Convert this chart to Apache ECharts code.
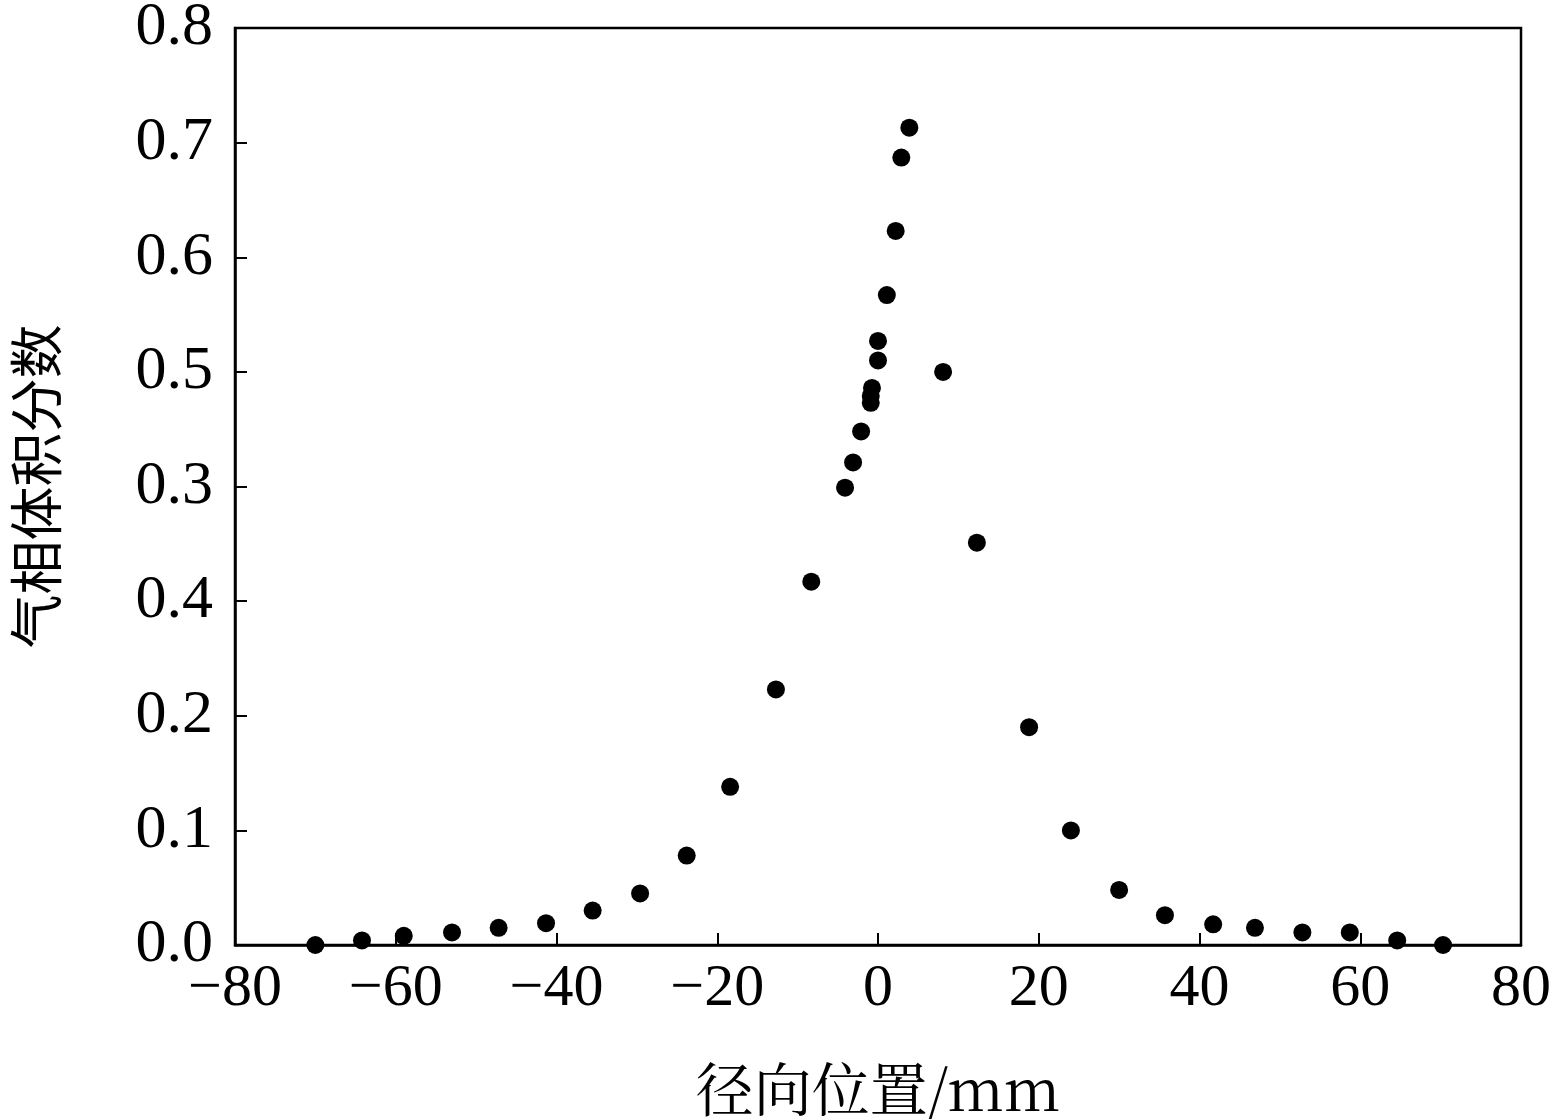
<!DOCTYPE html><html><head><meta charset="utf-8"><script src="https://cdn.jsdelivr.net/npm/echarts@6/dist/echarts.min.js"></script></head><body style="margin:0"><div id="c" style="width:1555px;height:1119px"></div><script>
const xs=[-70,-64.2,-59,-53,-47.2,-41.3,-35.5,-29.6,-23.8,-18.4,-12.7,-8.3,-4.1,-3.1,-2.1,-0.9,-0.9,-0.75,0,0,1.1,2.2,2.9,3.9,8.1,12.3,18.8,24,30,35.7,41.7,46.9,52.8,58.7,64.6,70.3];
const ys=[0,0.004,0.008,0.011,0.015,0.019,0.03,0.045,0.078,0.138,0.223,0.317,0.399,0.421,0.448,0.473,0.479,0.486,0.51,0.527,0.567,0.623,0.687,0.713,0.5,0.351,0.19,0.1,0.048,0.026,0.018,0.015,0.011,0.011,0.004,0];
const yTickLabels=['0.0','0.1','0.2','0.4','0.3','0.5','0.6','0.7','0.8'];
const font='"Liberation Serif","DejaVu Serif",serif';
const ch=echarts.init(document.getElementById('c'));
ch.setOption({animation:false,backgroundColor:'#fff',
grid:{left:235,right:34,top:28,bottom:174,outerBoundsMode:'none',containLabel:false,show:true,borderColor:'#000',borderWidth:2.5},
xAxis:{type:'value',min:-80,max:80,interval:20,axisLine:{onZero:false,lineStyle:{color:'#000',width:2.5}},axisTick:{inside:true,length:12,lineStyle:{color:'#000',width:2}},splitLine:{show:false},
axisLabel:{color:'#000',fontSize:60,fontFamily:font,margin:14,formatter:v=>v<0?'\u2212'+(-v):String(v)},
name:'径向位置/mm',nameLocation:'middle',nameGap:115,nameTextStyle:{color:'#000',fontSize:58,fontFamily:'"Noto Serif CJK SC","Noto Sans CJK SC",serif'}},
yAxis:{type:'value',min:0,max:0.8,interval:0.1,axisLine:{onZero:false,lineStyle:{color:'#000',width:2.5}},axisTick:{inside:true,length:12,lineStyle:{color:'#000',width:2}},splitLine:{show:false},
axisLabel:{color:'#000',fontSize:62,fontFamily:font,margin:22,formatter:v=>yTickLabels[Math.round(v*10)]},
name:'气相体积分数',nameLocation:'middle',nameGap:172,nameTextStyle:{color:'#000',fontSize:54,fontFamily:'"Noto Sans CJK SC",serif'}},
series:[{type:'scatter',data:xs.map((x,i)=>[x,ys[i]]),symbolSize:18,itemStyle:{color:'#000',opacity:1}}]});
</script></body></html>
